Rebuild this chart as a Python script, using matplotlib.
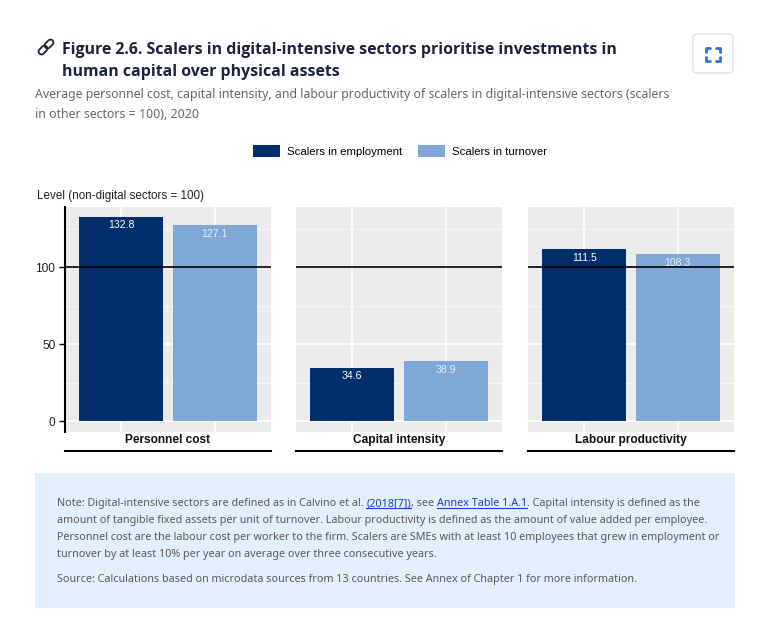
import matplotlib
matplotlib.use("Agg")
import matplotlib.pyplot as plt
from matplotlib.patches import Rectangle, FancyBboxPatch, Patch
from matplotlib.lines import Line2D
from matplotlib.transforms import Affine2D

# データ
panels = ["Personnel cost", "Capital intensity", "Labour productivity"]
series = ["Scalers in employment", "Scalers in turnover"]
employment = [132.8, 34.6, 111.5]
turnover = [127.1, 38.9, 108.3]
y_ticks = [0, 50, 100]
y_label = "Level (non-digital sectors = 100)"

title_lines = ["Figure 2.6. Scalers in digital-intensive sectors prioritise investments in",
               "human capital over physical assets"]
subtitle_lines = ["Average personnel cost, capital intensity, and labour productivity of scalers in digital-intensive sectors (scalers",
                  "in other sectors = 100), 2020"]
note_lines = [
    [("Note: Digital-intensive sectors are defined as in Calvino et al. ", False), ("(2018[7])", True),
     (", see ", False), ("Annex Table 1.A.1", True), (". Capital intensity is defined as the", False)],
    [("amount of tangible fixed assets per unit of turnover. Labour productivity is defined as the amount of value added per employee.", False)],
    [("Personnel cost are the labour cost per worker to the firm. Scalers are SMEs with at least 10 employees that grew in employment or", False)],
    [("turnover by at least 10% per year on average over three consecutive years.", False)],
    [("Source: Calculations based on microdata sources from 13 countries. See Annex of Chapter 1 for more information.", False)],
]

DARK = "#002f6c"
LIGHT = "#7fa7d8"
BG = "#ebebeb"
CHART_FONT = ["Liberation Sans", "DejaVu Sans"]
PAGE_FONT = ["Noto Sans", "DejaVu Sans"]
TITLE_FONT = ["Open Sans", "Noto Sans", "DejaVu Sans"]

W, H = 760, 638
fig = plt.figure(figsize=(W / 100, H / 100), dpi=100)
fig.patch.set_facecolor("white")
renderer = fig.canvas.get_renderer()


def fx(px):
    return px / W


def fy(py):
    return 1 - py / H


def text_width(s, **kw):
    t = fig.text(0, 0, s + ".", **kw)
    d = fig.text(0, 0, ".", **kw)
    w = t.get_window_extent(renderer).width - d.get_window_extent(renderer).width
    t.remove()
    d.remove()
    return w


def fit_size(s, target, size=10, **kw):
    # 幅に合わせてフォントサイズを決める
    return size * target / text_width(s, fontsize=size, **kw)


# タイトル
tsize = fit_size(title_lines[0], 556, family=TITLE_FONT, weight="bold")
fig.text(fx(62), fy(54), title_lines[0], fontsize=tsize, family=TITLE_FONT, weight="bold",
         color="#1c2340", va="baseline")
fig.text(fx(62), fy(76), title_lines[1], fontsize=tsize, family=TITLE_FONT, weight="bold",
         color="#1c2340", va="baseline")

# リンクアイコン
ax_icon = fig.add_axes([fx(36), fy(57), fx(20), 20 / H])
ax_icon.set_xlim(-10, 10)
ax_icon.set_ylim(-10, 10)
ax_icon.axis("off")
for dx in (-4.3, 4.3):
    p = FancyBboxPatch((dx - 5.0, -2.9), 10.0, 5.8, boxstyle="round,pad=0,rounding_size=2.9",
                       fill=False, ec="#1c2340", lw=1.3,
                       transform=Affine2D().rotate_deg(45) + ax_icon.transData)
    ax_icon.add_patch(p)

# サブタイトル
ssize = fit_size(subtitle_lines[0], 636, family=PAGE_FONT)
fig.text(fx(35), fy(98), subtitle_lines[0], fontsize=ssize, family=PAGE_FONT, color="#666666", va="baseline")
fig.text(fx(35), fy(118), subtitle_lines[1], fontsize=ssize, family=PAGE_FONT, color="#666666", va="baseline")

# 拡大ボタン
fig.patches.append(FancyBboxPatch((fx(693), fy(73)), fx(40), 39 / H,
                                  boxstyle="round,pad=0,rounding_size=0.006",
                                  transform=fig.transFigure, fc="white", ec="#dde2e8", lw=1))
bx0, bx1, by0, by1, c = 706, 720, 48, 61, 4
for (x, y, sx, sy) in [(bx0, by0, 1, 1), (bx1, by0, -1, 1), (bx0, by1, 1, -1), (bx1, by1, -1, -1)]:
    fig.lines.append(Line2D([fx(x), fx(x), fx(x + sx * c)], [fy(y + sy * c), fy(y), fy(y)],
                            transform=fig.transFigure, color="#2f6fde", lw=2, solid_capstyle="round"))

# 凡例
lsize = fit_size(series[0], 116, family=CHART_FONT)
handles = [Patch(fc=DARK, ec="none"), Patch(fc=LIGHT, ec="none")]
px_per_em = lsize * 100 / 72
fig.legend(handles, series, loc="center", bbox_to_anchor=(fx(400), fy(151)), ncol=2, frameon=False,
           prop={"family": CHART_FONT, "size": lsize}, handlelength=27 / px_per_em,
           handleheight=14 / px_per_em, handletextpad=7 / px_per_em, columnspacing=15 / px_per_em,
           borderpad=0, borderaxespad=0)

# 縦軸ラベル
fig.text(fx(37), fy(199), y_label, fontsize=fit_size(y_label, 166, family=CHART_FONT),
         family=CHART_FONT, color="#222222", va="baseline")

# パネル
ax_left = [65, 296, 528]
ax_w = 206
top, bottom = 207, 432
for i, name in enumerate(panels):
    ax = fig.add_axes([fx(ax_left[i]), fy(bottom), fx(ax_w), (bottom - top) / H])
    ax.set_facecolor(BG)
    vals = [employment[i], turnover[i]]
    ax.bar([0, 1], vals, width=0.9, color=[DARK, LIGHT], zorder=3)
    for x, v, col in zip([0, 1], vals, ["white", "#e6eef8"]):
        ax.annotate(f"{v:.1f}", (x, v), xytext=(0, -2.5), textcoords="offset points",
                    ha="center", va="top", color=col, fontsize=7.6, family=CHART_FONT, zorder=5)
    ax.axhline(100, color="black", lw=1.2, zorder=4)
    ax.set_xlim(-0.6, 1.6)
    ax.set_ylim(-7.1, 139)
    ax.set_yticks(y_ticks)
    ax.set_yticks([25, 75, 125], minor=True)
    ax.set_xticks([0, 1])
    ax.set_xticklabels([])
    ax.grid(which="major", color="white", lw=1.2, zorder=0)
    ax.grid(which="minor", axis="y", color="#f7f7f7", lw=0.6, zorder=0)
    ax.set_axisbelow(True)
    for s in ax.spines.values():
        s.set_visible(False)
    ax.tick_params(axis="x", length=0)
    ax.tick_params(axis="y", which="minor", length=0)
    if i == 0:
        ax.spines["left"].set_visible(True)
        ax.spines["left"].set_linewidth(1.5)
        ax.tick_params(axis="y", length=4, width=1, colors="black", labelsize=8.6, pad=3)
        for lab in ax.get_yticklabels():
            lab.set_family(CHART_FONT)
            lab.set_color("#222222")
    else:
        ax.tick_params(axis="y", length=0, labelleft=False)

    # ストリップラベル
    fig.text(fx(ax_left[i] + ax_w / 2), fy(443), name, ha="center", va="baseline",
             fontsize=8.6, weight="bold", family=CHART_FONT, color="#111111")
    fig.lines.append(Line2D([fx(ax_left[i]), fx(ax_left[i] + ax_w)], [fy(451), fy(451)],
                            transform=fig.transFigure, color="black", lw=1.5))

# 注記ボックス
fig.patches.append(Rectangle((fx(35), fy(608)), fx(700), (608 - 473) / H, transform=fig.transFigure,
                             fc="#e1f0fc", ec="none", zorder=0))
nsize = fit_size("".join(s for s, _ in note_lines[0]), 643, family=PAGE_FONT)
baselines = [506, 523, 540, 557, 582]
for segs, yb in zip(note_lines, baselines):
    x = 57
    for s, link in segs:
        col = "#1a3fd0" if link else "#5a5a5a"
        fig.text(fx(x), fy(yb), s, fontsize=nsize, family=PAGE_FONT, color=col, va="baseline")
        w = text_width(s, fontsize=nsize, family=PAGE_FONT)
        if link:
            fig.lines.append(Line2D([fx(x), fx(x + w)], [fy(yb + 2), fy(yb + 2)],
                                    transform=fig.transFigure, color=col, lw=0.8))
        x += w

fig.savefig("out.png", dpi=100)
